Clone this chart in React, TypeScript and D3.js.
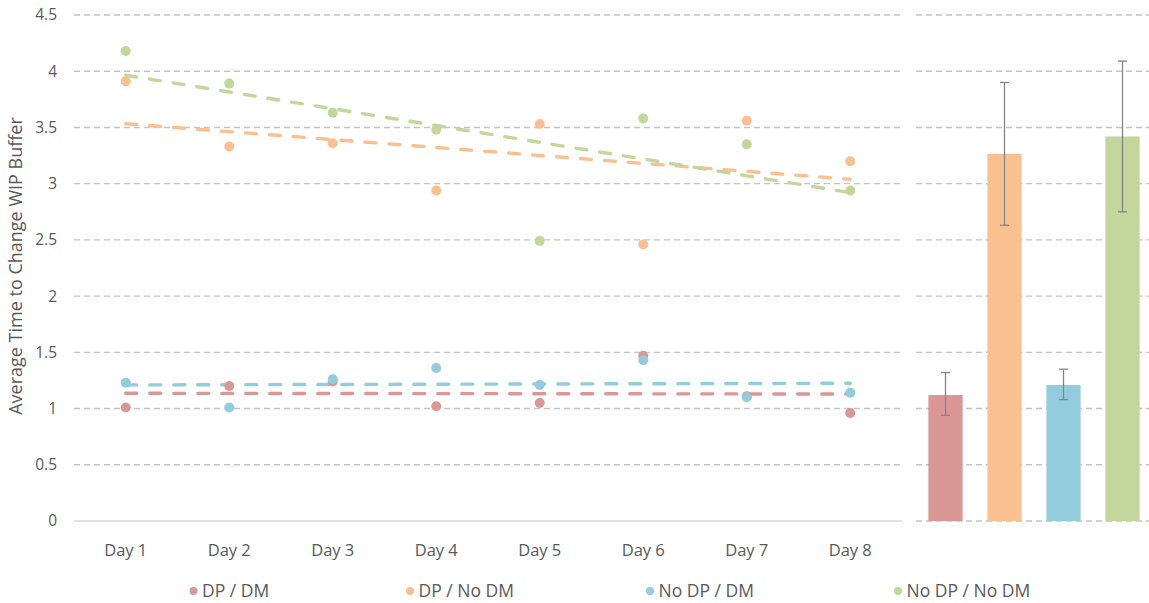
import * as d3 from 'd3'

const days = ['Day 1', 'Day 2', 'Day 3', 'Day 4', 'Day 5', 'Day 6', 'Day 7', 'Day 8']
const groups = ['DP / DM', 'DP / No DM', 'No DP / DM', 'No DP / No DM']
const colors = ['#d99795', '#fac090', '#93cddd', '#c3d69b']

// daily averages per group
const dpDm = [1.01, 1.2, 1.24, 1.02, 1.05, 1.47, 1.11, 0.96]
const dpNoDm = [3.91, 3.33, 3.36, 2.94, 3.53, 2.46, 3.56, 3.2]
const noDpDm = [1.23, 1.01, 1.26, 1.36, 1.21, 1.43, 1.1, 1.14]
const noDpNoDm = [4.18, 3.89, 3.63, 3.48, 2.49, 3.58, 3.35, 2.94]
const daily = [dpDm, dpNoDm, noDpDm, noDpNoDm]

// overall means with error bars
const means = [1.12, 3.265, 1.21, 3.42]
const errLow = [0.94, 2.63, 1.08, 2.75]
const errHigh = [1.32, 3.9, 1.35, 4.09]

const yTicks = [0, 0.5, 1, 1.5, 2, 2.5, 3, 3.5, 4, 4.5]

const W = 1149
const H = 603
const top = 15
const bottom = 521
const left = { x0: 74, x1: 902 }
const right = { x0: 916, x1: 1152 }

function trend(vals: number[]) {
  const xs = vals.map((_, i) => i + 1)
  const mx = d3.mean(xs) as number
  const my = d3.mean(vals) as number
  let sxy = 0
  let sxx = 0
  xs.forEach((x, i) => {
    sxy += (x - mx) * (vals[i] - my)
    sxx += (x - mx) * (x - mx)
  })
  const slope = sxy / sxx
  return xs.map((x) => my + slope * (x - mx))
}

export default function App() {
  const y = d3.scaleLinear().domain([0, 4.5]).range([bottom, top])
  const x = d3.scaleBand().domain(days).range([left.x0, left.x1])
  const xb = d3.scaleBand().domain(groups).range([right.x0, right.x1]).paddingInner(0.42).paddingOuter(0.21)

  const line = d3
    .line<number>()
    .x((_, i) => (x(days[i]) as number) + x.bandwidth() / 2)
    .y((d) => y(d))

  const font = '"Open Sans", sans-serif'
  const textCol = '#595959'

  const legendX = [193.5, 410, 650, 898]

  return (
    <svg width={W} height={H} style={{ position: 'absolute', left: 0, top: 0, background: '#fff' }} fontFamily={font}>
      {/* gridlines left */}
      {yTicks.map((t) =>
        t === 0 ? (
          <line key={'g' + t} x1={left.x0} x2={left.x1} y1={y(t)} y2={y(t)} stroke="#d9d9d9" strokeWidth={1.5} />
        ) : (
          <line
            key={'g' + t}
            x1={left.x0}
            x2={left.x1}
            y1={y(t)}
            y2={y(t)}
            stroke="#c4c4c4"
            strokeWidth={1.4}
            strokeDasharray="6,4"
          />
        )
      )}
      {/* gridlines right */}
      {yTicks.map((t) => (
        <line
          key={'r' + t}
          x1={right.x0}
          x2={W}
          y1={y(t)}
          y2={y(t)}
          stroke="#c4c4c4"
          strokeWidth={1.4}
          strokeDasharray="6,4"
        />
      ))}
      {/* y tick labels */}
      {yTicks.map((t) => (
        <text key={'t' + t} x={57} y={y(t)} dy="0.35em" textAnchor="end" fontSize={15.5} fill={textCol}>
          {t}
        </text>
      ))}
      <text transform={`translate(22,266) rotate(-90)`} textAnchor="middle" fontSize={18} fill={textCol}>
        Average Time to Change WIP Buffer
      </text>
      {/* x labels */}
      {days.map((d) => (
        <text key={d} x={(x(d) as number) + x.bandwidth() / 2} y={556} textAnchor="middle" fontSize={16.5} fill={textCol}>
          {d}
        </text>
      ))}
      {/* trend lines */}
      {daily.map((vals, gi) => (
        <path
          key={'tl' + gi}
          d={line(trend(vals)) as string}
          fill="none"
          stroke={colors[gi]}
          strokeWidth={3.4}
          strokeDasharray="11,13"
          strokeLinecap="round"
        />
      ))}
      {/* points */}
      {daily.map((vals, gi) =>
        vals.map((v, i) => (
          <circle
            key={'p' + gi + '-' + i}
            cx={(x(days[i]) as number) + x.bandwidth() / 2}
            cy={y(v)}
            r={5}
            fill={colors[gi]}
          />
        ))
      )}
      {/* bars */}
      {groups.map((g, i) => (
        <rect
          key={'b' + g}
          x={xb(g) as number}
          y={y(means[i])}
          width={xb.bandwidth()}
          height={y(0) - y(means[i])}
          fill={colors[i]}
        />
      ))}
      {/* error bars */}
      {groups.map((g, i) => {
        const cx = (xb(g) as number) + xb.bandwidth() / 2
        return (
          <g key={'e' + g} stroke="#858585" strokeWidth={1.3}>
            <line x1={cx} x2={cx} y1={y(errLow[i])} y2={y(errHigh[i])} />
            <line x1={cx - 4.5} x2={cx + 4.5} y1={y(errLow[i])} y2={y(errLow[i])} />
            <line x1={cx - 4.5} x2={cx + 4.5} y1={y(errHigh[i])} y2={y(errHigh[i])} />
          </g>
        )
      })}
      {/* legend */}
      {groups.map((g, i) => (
        <g key={'l' + g} transform={`translate(${legendX[i]},591)`}>
          <circle cx={0} cy={0} r={4} fill={colors[i]} />
          <text x={8.5} y={0} dy="0.35em" fontSize={17.5} fill={textCol}>
            {g}
          </text>
        </g>
      ))}
    </svg>
  )
}
